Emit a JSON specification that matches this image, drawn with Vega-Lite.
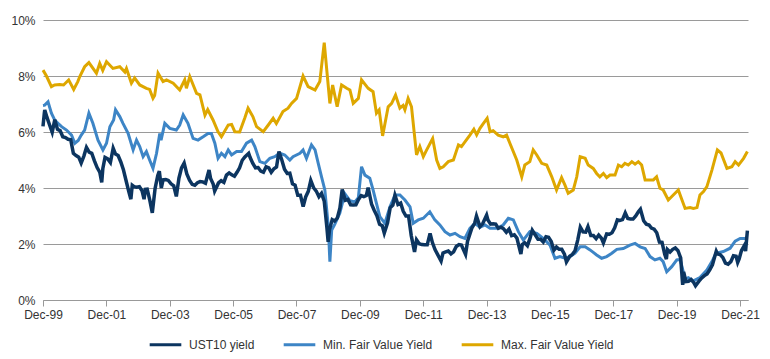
{
  "$schema": "https://vega.github.io/schema/vega-lite/v6.json",
  "width": 705,
  "height": 280,
  "autosize": {"type": "none"},
  "padding": {"left": 43, "top": 20, "right": 22, "bottom": 59},
  "background": "white",
  "config": {
    "view": {"stroke": null},
    "font": "Liberation Sans",
    "axis": {"labelFont": "Liberation Sans", "labelFontSize": 12, "labelColor": "#333333"},
    "legend": {"labelFont": "Liberation Sans", "labelFontSize": 12, "labelColor": "#333333"}
  },
  "datasets": {
    "ust": [
      {"d":"1999-12-31","v":6.2},{"d":"2000-01-20","v":6.79},
      {"d":"2000-01-15","v":6.66},{"d":"2000-02-15","v":6.52},{"d":"2000-03-15","v":6.26},{"d":"2000-04-15","v":5.99},{"d":"2000-05-15","v":6.44},{"d":"2000-06-15","v":6.10},{"d":"2000-07-15","v":6.05},{"d":"2000-08-15","v":5.83},{"d":"2000-09-15","v":5.80},{"d":"2000-10-15","v":5.74},{"d":"2000-11-15","v":5.72},{"d":"2000-12-15","v":5.24},
      {"d":"2001-01-15","v":5.16},{"d":"2001-02-15","v":5.10},{"d":"2001-03-15","v":4.89},{"d":"2001-04-15","v":5.14},{"d":"2001-05-15","v":5.45},{"d":"2001-06-15","v":5.28},{"d":"2001-07-15","v":5.24},{"d":"2001-08-15","v":4.97},{"d":"2001-09-15","v":4.73},{"d":"2001-10-15","v":4.57},{"d":"2001-11-07","v":4.2},{"d":"2001-11-20","v":4.7},{"d":"2001-12-15","v":5.09},
      {"d":"2002-01-15","v":5.04},{"d":"2002-02-15","v":4.91},{"d":"2002-03-19","v":5.42},{"d":"2002-04-15","v":5.21},{"d":"2002-05-15","v":5.16},{"d":"2002-06-15","v":4.93},{"d":"2002-07-15","v":4.65},{"d":"2002-08-15","v":4.26},{"d":"2002-09-15","v":3.87},{"d":"2002-10-09","v":3.6},{"d":"2002-10-25","v":4.1},{"d":"2002-11-15","v":4.05},{"d":"2002-12-15","v":4.03},
      {"d":"2003-01-15","v":4.05},{"d":"2003-02-15","v":3.90},{"d":"2003-03-10","v":3.6},{"d":"2003-03-25","v":3.95},{"d":"2003-04-15","v":3.96},{"d":"2003-05-15","v":3.57},{"d":"2003-06-13","v":3.11},{"d":"2003-07-15","v":3.98},{"d":"2003-08-15","v":4.45},{"d":"2003-09-02","v":4.6},{"d":"2003-09-25","v":4.0},{"d":"2003-10-15","v":4.29},{"d":"2003-11-15","v":4.30},{"d":"2003-12-15","v":4.27},
      {"d":"2004-01-15","v":4.15},{"d":"2004-02-15","v":4.08},{"d":"2004-03-16","v":3.7},{"d":"2004-04-15","v":4.35},{"d":"2004-05-15","v":4.72},{"d":"2004-06-14","v":4.89},{"d":"2004-07-15","v":4.50},{"d":"2004-08-15","v":4.28},{"d":"2004-09-15","v":4.13},{"d":"2004-10-15","v":4.10},{"d":"2004-11-15","v":4.19},{"d":"2004-12-15","v":4.23},
      {"d":"2005-01-15","v":4.22},{"d":"2005-02-15","v":4.17},{"d":"2005-03-28","v":4.64},{"d":"2005-04-15","v":4.34},{"d":"2005-05-15","v":4.14},{"d":"2005-06-01","v":3.89},{"d":"2005-07-15","v":4.18},{"d":"2005-08-15","v":4.26},{"d":"2005-09-15","v":4.20},{"d":"2005-10-15","v":4.46},{"d":"2005-11-15","v":4.54},{"d":"2005-12-15","v":4.47},
      {"d":"2006-01-15","v":4.42},{"d":"2006-02-15","v":4.57},{"d":"2006-03-15","v":4.72},{"d":"2006-04-15","v":4.99},{"d":"2006-05-15","v":5.11},{"d":"2006-06-28","v":5.24},{"d":"2006-07-15","v":5.09},{"d":"2006-08-15","v":4.88},{"d":"2006-09-15","v":4.72},{"d":"2006-10-15","v":4.73},{"d":"2006-11-15","v":4.60},{"d":"2006-12-15","v":4.56},
      {"d":"2007-01-15","v":4.76},{"d":"2007-02-15","v":4.72},{"d":"2007-03-15","v":4.56},{"d":"2007-04-15","v":4.69},{"d":"2007-05-15","v":4.75},{"d":"2007-06-12","v":5.30},{"d":"2007-07-15","v":5.00},{"d":"2007-08-15","v":4.67},{"d":"2007-09-15","v":4.52},{"d":"2007-10-15","v":4.53},{"d":"2007-11-15","v":4.15},{"d":"2007-12-15","v":4.10},
      {"d":"2008-01-15","v":3.74},{"d":"2008-02-15","v":3.74},{"d":"2008-03-17","v":3.34},{"d":"2008-04-15","v":3.68},{"d":"2008-05-15","v":3.88},{"d":"2008-06-13","v":4.27},{"d":"2008-07-15","v":4.01},{"d":"2008-08-15","v":3.89},{"d":"2008-09-15","v":3.69},{"d":"2008-10-15","v":3.81},{"d":"2008-11-15","v":3.53},{"d":"2008-12-15","v":2.6},{"d":"2008-12-30","v":2.08},
      {"d":"2009-01-15","v":2.52},{"d":"2009-02-15","v":2.87},{"d":"2009-03-15","v":2.82},{"d":"2009-04-15","v":2.93},{"d":"2009-05-15","v":3.29},{"d":"2009-06-10","v":3.95},{"d":"2009-07-15","v":3.56},{"d":"2009-08-15","v":3.59},{"d":"2009-09-15","v":3.40},{"d":"2009-10-15","v":3.39},{"d":"2009-11-15","v":3.40},{"d":"2009-12-15","v":3.59},
      {"d":"2010-01-15","v":3.73},{"d":"2010-02-15","v":3.69},{"d":"2010-03-15","v":3.73},{"d":"2010-04-05","v":4.01},{"d":"2010-05-15","v":3.42},{"d":"2010-06-15","v":3.20},{"d":"2010-07-15","v":3.01},{"d":"2010-08-15","v":2.70},{"d":"2010-09-15","v":2.65},{"d":"2010-10-08","v":2.39},{"d":"2010-11-15","v":2.76},{"d":"2010-12-15","v":3.29},
      {"d":"2011-01-15","v":3.39},{"d":"2011-02-08","v":3.74},{"d":"2011-03-15","v":3.41},{"d":"2011-04-15","v":3.46},{"d":"2011-05-15","v":3.17},{"d":"2011-06-15","v":3.00},{"d":"2011-07-15","v":3.00},{"d":"2011-08-15","v":2.30},{"d":"2011-09-22","v":1.72},{"d":"2011-10-15","v":2.15},{"d":"2011-11-15","v":2.01},{"d":"2011-12-15","v":1.98},
      {"d":"2012-01-15","v":1.97},{"d":"2012-02-15","v":1.97},{"d":"2012-03-19","v":2.38},{"d":"2012-04-15","v":2.05},{"d":"2012-05-15","v":1.80},{"d":"2012-06-15","v":1.62},{"d":"2012-07-24","v":1.39},{"d":"2012-08-15","v":1.68},{"d":"2012-09-15","v":1.72},{"d":"2012-10-15","v":1.75},{"d":"2012-11-15","v":1.65},{"d":"2012-12-15","v":1.72},
      {"d":"2013-01-15","v":1.91},{"d":"2013-02-15","v":1.98},{"d":"2013-03-15","v":1.96},{"d":"2013-05-02","v":1.63},{"d":"2013-05-25","v":2.1},{"d":"2013-06-15","v":2.30},{"d":"2013-07-15","v":2.58},{"d":"2013-08-15","v":2.74},{"d":"2013-09-05","v":3.0},{"d":"2013-10-15","v":2.62},{"d":"2013-11-15","v":2.72},{"d":"2013-12-31","v":3.03},
      {"d":"2014-01-15","v":2.86},{"d":"2014-02-15","v":2.71},{"d":"2014-03-15","v":2.72},{"d":"2014-04-15","v":2.71},{"d":"2014-05-15","v":2.56},{"d":"2014-06-15","v":2.60},{"d":"2014-07-15","v":2.54},{"d":"2014-08-15","v":2.42},{"d":"2014-09-15","v":2.53},{"d":"2014-10-15","v":2.30},{"d":"2014-11-15","v":2.33},{"d":"2014-12-15","v":2.21},
      {"d":"2015-01-30","v":1.64},{"d":"2015-02-15","v":1.98},{"d":"2015-03-15","v":2.04},{"d":"2015-04-15","v":1.94},{"d":"2015-05-15","v":2.20},{"d":"2015-06-10","v":2.49},{"d":"2015-07-15","v":2.32},{"d":"2015-08-15","v":2.17},{"d":"2015-09-15","v":2.17},{"d":"2015-10-15","v":2.07},{"d":"2015-11-15","v":2.26},{"d":"2015-12-15","v":2.24},
      {"d":"2016-01-15","v":2.09},{"d":"2016-02-15","v":1.78},{"d":"2016-03-15","v":1.89},{"d":"2016-04-15","v":1.81},{"d":"2016-05-15","v":1.81},{"d":"2016-06-15","v":1.64},{"d":"2016-07-08","v":1.36},{"d":"2016-08-15","v":1.56},{"d":"2016-09-15","v":1.63},{"d":"2016-10-15","v":1.76},{"d":"2016-11-15","v":2.14},{"d":"2016-12-15","v":2.60},
      {"d":"2017-01-15","v":2.43},{"d":"2017-02-15","v":2.42},{"d":"2017-03-13","v":2.62},{"d":"2017-04-15","v":2.30},{"d":"2017-05-15","v":2.30},{"d":"2017-06-15","v":2.19},{"d":"2017-07-15","v":2.32},{"d":"2017-08-15","v":2.21},{"d":"2017-09-07","v":2.04},{"d":"2017-10-15","v":2.36},{"d":"2017-11-15","v":2.35},{"d":"2017-12-15","v":2.40},
      {"d":"2018-01-15","v":2.58},{"d":"2018-02-15","v":2.86},{"d":"2018-03-15","v":2.84},{"d":"2018-04-15","v":2.87},{"d":"2018-05-17","v":3.11},{"d":"2018-06-15","v":2.91},{"d":"2018-07-15","v":2.89},{"d":"2018-08-15","v":2.89},{"d":"2018-09-15","v":3.00},{"d":"2018-10-15","v":3.15},{"d":"2018-11-08","v":3.24},{"d":"2018-12-15","v":2.83},
      {"d":"2019-01-15","v":2.71},{"d":"2019-02-15","v":2.68},{"d":"2019-03-15","v":2.57},{"d":"2019-04-15","v":2.53},{"d":"2019-05-15","v":2.40},{"d":"2019-06-15","v":2.07},{"d":"2019-07-15","v":2.06},{"d":"2019-08-15","v":1.63},{"d":"2019-09-03","v":1.46},{"d":"2019-09-15","v":1.80},{"d":"2019-10-15","v":1.71},{"d":"2019-11-15","v":1.81},{"d":"2019-12-15","v":1.86},
      {"d":"2020-01-15","v":1.76},{"d":"2020-02-15","v":1.50},{"d":"2020-03-09","v":0.54},{"d":"2020-03-20","v":1.0},{"d":"2020-04-15","v":0.66},{"d":"2020-05-15","v":0.67},{"d":"2020-06-15","v":0.73},{"d":"2020-07-15","v":0.62},{"d":"2020-08-04","v":0.51},{"d":"2020-09-15","v":0.68},{"d":"2020-10-15","v":0.79},{"d":"2020-11-15","v":0.87},{"d":"2020-12-15","v":0.93},
      {"d":"2021-01-15","v":1.08},{"d":"2021-02-15","v":1.26},{"d":"2021-03-31","v":1.74},{"d":"2021-04-15","v":1.64},{"d":"2021-05-15","v":1.62},{"d":"2021-06-15","v":1.52},{"d":"2021-07-15","v":1.32},{"d":"2021-08-15","v":1.28},{"d":"2021-09-15","v":1.37},{"d":"2021-10-15","v":1.58},{"d":"2021-11-15","v":1.56},{"d":"2021-12-03","v":1.34},{"d":"2021-12-20","v":1.47},
      {"d":"2022-01-15","v":1.76},{"d":"2022-02-15","v":1.93},{"d":"2022-03-04","v":1.75},{"d":"2022-03-15","v":2.13},{"d":"2022-03-25","v":2.48}
    ],
    "minv": [
      {"d":"1999-12-31","v":6.95},{"d":"2000-01-20","v":6.96},{"d":"2000-02-27","v":7.08},{"d":"2000-04-06","v":6.67},{"d":"2000-05-13","v":6.43},{"d":"2000-06-21","v":6.31},{"d":"2000-08-01","v":6.19},{"d":"2000-09-27","v":6.07},{"d":"2000-11-24","v":5.89},
      {"d":"2001-01-01","v":5.6},{"d":"2001-02-09","v":5.7},{"d":"2001-03-16","v":5.89},{"d":"2001-04-24","v":6.07},{"d":"2001-06-12","v":6.67},{"d":"2001-07-28","v":6.31},{"d":"2001-09-25","v":5.71},{"d":"2001-11-21","v":5.36},
      {"d":"2002-01-01","v":5.6},{"d":"2002-02-09","v":6.19},{"d":"2002-03-24","v":6.43},{"d":"2002-04-15","v":6.79},{"d":"2002-06-03","v":6.55},{"d":"2002-07-10","v":6.31},{"d":"2002-09-07","v":5.95},{"d":"2002-11-04","v":5.36},{"d":"2002-12-13","v":5.71},
      {"d":"2003-01-19","v":5.48},{"d":"2003-02-27","v":5.12},{"d":"2003-04-06","v":5.3},{"d":"2003-05-13","v":5.0},{"d":"2003-06-21","v":4.7},{"d":"2003-08-01","v":5.24},{"d":"2003-09-07","v":5.95},{"d":"2003-09-22","v":5.71},{"d":"2003-11-04","v":6.31},
      {"d":"2004-01-01","v":6.13},{"d":"2004-03-16","v":6.07},{"d":"2004-04-24","v":6.25},{"d":"2004-06-03","v":6.61},{"d":"2004-07-28","v":6.31},{"d":"2004-09-25","v":5.77},{"d":"2004-11-21","v":5.71},
      {"d":"2005-01-19","v":5.83},{"d":"2005-03-16","v":5.95},{"d":"2005-04-24","v":5.95},{"d":"2005-06-03","v":5.6},{"d":"2005-07-10","v":5.06},{"d":"2005-08-18","v":5.24},{"d":"2005-09-27","v":5.12},{"d":"2005-11-04","v":5.36},{"d":"2005-12-13","v":5.18},
      {"d":"2006-02-09","v":5.3},{"d":"2006-04-06","v":5.3},{"d":"2006-06-03","v":5.6},{"d":"2006-08-01","v":5.71},{"d":"2006-09-07","v":5.48},{"d":"2006-11-04","v":4.94},
      {"d":"2007-01-01","v":4.88},{"d":"2007-02-27","v":5.06},{"d":"2007-04-24","v":5.12},{"d":"2007-06-21","v":5.24},{"d":"2007-08-18","v":5.18},{"d":"2007-10-15","v":5.0},{"d":"2007-11-21","v":5.12},
      {"d":"2008-02-09","v":5.24},{"d":"2008-03-16","v":5.36},{"d":"2008-04-24","v":5.06},{"d":"2008-06-21","v":5.54},{"d":"2008-08-01","v":5.36},{"d":"2008-09-07","v":4.88},{"d":"2008-10-15","v":4.4},{"d":"2008-11-22","v":3.93},
      {"d":"2009-01-01","v":2.62},{"d":"2009-01-19","v":1.37},{"d":"2009-02-09","v":2.5},{"d":"2009-03-16","v":2.7},{"d":"2009-05-13","v":3.1},{"d":"2009-07-10","v":3.8},{"d":"2009-09-07","v":3.55},{"d":"2009-11-04","v":3.5},{"d":"2009-12-13","v":3.65},
      {"d":"2010-01-19","v":4.76},{"d":"2010-02-27","v":4.46},{"d":"2010-04-24","v":4.35},{"d":"2010-06-01","v":3.93},{"d":"2010-07-10","v":3.45},{"d":"2010-08-18","v":2.98},{"d":"2010-10-15","v":2.74},{"d":"2010-12-13","v":3.33},
      {"d":"2011-02-09","v":3.75},{"d":"2011-04-06","v":3.75},{"d":"2011-06-03","v":3.57},{"d":"2011-08-01","v":3.33},{"d":"2011-09-07","v":2.74},{"d":"2011-11-04","v":2.86},
      {"d":"2012-01-01","v":2.92},{"d":"2012-03-16","v":3.15},{"d":"2012-05-13","v":2.86},{"d":"2012-07-10","v":2.68},{"d":"2012-09-07","v":2.44},{"d":"2012-11-04","v":2.32},
      {"d":"2013-01-01","v":2.38},{"d":"2013-02-27","v":2.26},{"d":"2013-04-24","v":2.2},{"d":"2013-06-21","v":2.56},{"d":"2013-08-18","v":2.74},{"d":"2013-10-15","v":2.6},{"d":"2013-12-13","v":2.68},
      {"d":"2014-02-09","v":2.56},{"d":"2014-04-28","v":2.56},{"d":"2014-07-10","v":2.68},{"d":"2014-09-07","v":2.92},{"d":"2014-11-04","v":2.86},
      {"d":"2015-01-01","v":2.44},{"d":"2015-02-27","v":2.14},{"d":"2015-05-13","v":2.44},{"d":"2015-08-01","v":2.38},{"d":"2015-10-15","v":2.2},
      {"d":"2016-01-01","v":1.96},{"d":"2016-02-27","v":1.49},{"d":"2016-04-24","v":1.55},{"d":"2016-06-21","v":1.49},{"d":"2016-08-18","v":1.55},{"d":"2016-10-15","v":1.67},{"d":"2016-12-13","v":1.9},
      {"d":"2017-02-09","v":1.9},{"d":"2017-04-06","v":1.79},{"d":"2017-06-21","v":1.61},{"d":"2017-08-18","v":1.49},{"d":"2017-10-15","v":1.55},{"d":"2017-12-13","v":1.67},
      {"d":"2018-02-09","v":1.81},{"d":"2018-04-24","v":1.84},{"d":"2018-07-10","v":1.96},{"d":"2018-09-07","v":2.02},{"d":"2018-11-04","v":1.9},
      {"d":"2019-01-01","v":1.84},{"d":"2019-02-27","v":1.55},{"d":"2019-04-24","v":1.43},{"d":"2019-06-21","v":1.49},{"d":"2019-07-28","v":1.37},{"d":"2019-09-07","v":1.01},{"d":"2019-11-04","v":1.19},
      {"d":"2020-01-01","v":1.43},{"d":"2020-02-09","v":1.45},{"d":"2020-04-06","v":0.75},{"d":"2020-05-13","v":0.8},{"d":"2020-07-10","v":0.68},{"d":"2020-09-24","v":0.8},{"d":"2020-12-13","v":1.07},
      {"d":"2021-02-09","v":1.37},{"d":"2021-03-28","v":1.67},{"d":"2021-06-21","v":1.73},{"d":"2021-09-07","v":1.85},{"d":"2021-11-04","v":2.1},
      {"d":"2022-01-01","v":2.2},{"d":"2022-02-27","v":2.2},{"d":"2022-03-25","v":2.25}
    ],
    "maxv": [
      {"d":"1999-12-31","v":8.21},{"d":"2000-02-09","v":8.0},{"d":"2000-04-06","v":7.62},{"d":"2000-05-13","v":7.68},{"d":"2000-07-10","v":7.7},{"d":"2000-08-24","v":7.68},{"d":"2000-10-22","v":7.86},{"d":"2000-12-19","v":7.52},
      {"d":"2001-02-04","v":7.8},{"d":"2001-02-27","v":7.98},{"d":"2001-04-24","v":8.33},{"d":"2001-06-12","v":8.48},{"d":"2001-09-07","v":8.1},{"d":"2001-10-15","v":8.45},{"d":"2001-11-19","v":8.2},
      {"d":"2002-01-01","v":8.51},{"d":"2002-03-16","v":8.27},{"d":"2002-06-03","v":8.33},{"d":"2002-08-01","v":8.14},{"d":"2002-08-19","v":8.27},{"d":"2002-10-15","v":7.74},{"d":"2002-11-21","v":7.93},
      {"d":"2003-01-19","v":7.68},{"d":"2003-04-06","v":7.56},{"d":"2003-05-13","v":7.52},{"d":"2003-06-21","v":7.2},{"d":"2003-07-10","v":7.3},{"d":"2003-08-18","v":8.1},{"d":"2003-10-15","v":7.8},{"d":"2003-11-24","v":7.86},
      {"d":"2004-02-09","v":7.74},{"d":"2004-04-24","v":7.5},{"d":"2004-06-21","v":7.86},{"d":"2004-07-10","v":7.56},{"d":"2004-08-18","v":7.98},{"d":"2004-11-04","v":7.38},{"d":"2004-12-13","v":7.33},
      {"d":"2005-02-09","v":6.6},{"d":"2005-03-13","v":6.8},{"d":"2005-05-13","v":6.43},{"d":"2005-07-10","v":6.01},{"d":"2005-08-18","v":5.83},{"d":"2005-11-04","v":6.25},{"d":"2005-12-13","v":6.27},
      {"d":"2006-01-19","v":6.01},{"d":"2006-03-16","v":6.0},{"d":"2006-05-13","v":6.49},{"d":"2006-06-21","v":6.85},{"d":"2006-08-15","v":6.55},{"d":"2006-09-27","v":6.19},{"d":"2006-12-13","v":6.01},
      {"d":"2007-02-09","v":6.25},{"d":"2007-04-06","v":6.49},{"d":"2007-05-13","v":6.3},{"d":"2007-07-28","v":6.73},{"d":"2007-09-25","v":6.85},{"d":"2007-11-04","v":7.02},
      {"d":"2008-01-01","v":7.2},{"d":"2008-03-16","v":8.0},{"d":"2008-05-13","v":7.62},{"d":"2008-08-01","v":7.5},{"d":"2008-09-25","v":7.8},{"d":"2008-11-15","v":9.19},
      {"d":"2009-01-19","v":7.02},{"d":"2009-02-20","v":7.68},{"d":"2009-04-13","v":6.9},{"d":"2009-06-03","v":7.68},{"d":"2009-08-01","v":7.56},{"d":"2009-09-07","v":7.5},{"d":"2009-10-15","v":7.02},{"d":"2009-12-13","v":7.2},
      {"d":"2010-01-19","v":7.86},{"d":"2010-04-06","v":7.56},{"d":"2010-06-01","v":7.44},{"d":"2010-07-10","v":6.67},{"d":"2010-08-10","v":6.79},{"d":"2010-09-19","v":5.86},{"d":"2010-11-22","v":6.9},
      {"d":"2011-01-01","v":7.02},{"d":"2011-02-15","v":7.32},{"d":"2011-04-06","v":6.85},{"d":"2011-05-13","v":6.95},{"d":"2011-06-03","v":6.79},{"d":"2011-07-10","v":7.2},{"d":"2011-08-18","v":6.9},{"d":"2011-10-15","v":5.18},{"d":"2011-11-22","v":5.48},
      {"d":"2012-01-01","v":5.12},{"d":"2012-02-09","v":5.36},{"d":"2012-04-18","v":5.77},{"d":"2012-06-03","v":5.0},{"d":"2012-07-10","v":4.7},{"d":"2012-08-18","v":4.76},{"d":"2012-10-15","v":4.94},{"d":"2012-12-13","v":5.0},
      {"d":"2013-02-09","v":5.54},{"d":"2013-03-16","v":5.48},{"d":"2013-06-21","v":5.89},{"d":"2013-08-06","v":6.1},{"d":"2013-09-07","v":5.9},{"d":"2013-10-15","v":6.13},{"d":"2013-11-22","v":6.3},
      {"d":"2014-01-06","v":6.49},{"d":"2014-02-09","v":6.01},{"d":"2014-03-16","v":6.05},{"d":"2014-05-13","v":5.89},{"d":"2014-07-10","v":5.83},{"d":"2014-08-18","v":5.89},{"d":"2014-09-25","v":5.6},{"d":"2014-12-13","v":5.0},
      {"d":"2015-02-09","v":4.4},{"d":"2015-03-16","v":4.82},{"d":"2015-05-13","v":4.94},{"d":"2015-06-21","v":5.36},{"d":"2015-08-01","v":5.18},{"d":"2015-09-27","v":4.88},{"d":"2015-11-24","v":4.82},
      {"d":"2016-01-21","v":4.4},{"d":"2016-03-16","v":3.93},{"d":"2016-05-13","v":4.37},{"d":"2016-06-21","v":4.1},{"d":"2016-07-28","v":3.81},{"d":"2016-09-25","v":3.93},{"d":"2016-11-04","v":4.4},{"d":"2016-12-13","v":5.12},
      {"d":"2017-02-09","v":5.06},{"d":"2017-03-16","v":4.82},{"d":"2017-05-13","v":4.7},{"d":"2017-06-21","v":4.52},{"d":"2017-07-28","v":4.4},{"d":"2017-09-07","v":4.52},{"d":"2017-10-15","v":4.37},{"d":"2017-11-22","v":4.46},
      {"d":"2018-01-19","v":4.46},{"d":"2018-02-27","v":4.82},{"d":"2018-04-06","v":4.76},{"d":"2018-05-13","v":4.88},{"d":"2018-06-21","v":4.82},{"d":"2018-08-01","v":4.94},{"d":"2018-09-07","v":4.85},{"d":"2018-10-15","v":4.94},{"d":"2018-11-22","v":4.82},
      {"d":"2019-01-01","v":4.29},{"d":"2019-02-09","v":4.29},{"d":"2019-04-06","v":4.29},{"d":"2019-05-13","v":4.4},{"d":"2019-06-21","v":3.99},{"d":"2019-07-28","v":3.93},{"d":"2019-09-25","v":3.57},{"d":"2019-11-22","v":3.75},
      {"d":"2020-01-19","v":3.93},{"d":"2020-02-27","v":3.6},{"d":"2020-04-06","v":3.27},{"d":"2020-06-03","v":3.3},{"d":"2020-07-10","v":3.27},{"d":"2020-08-21","v":3.3},{"d":"2020-09-24","v":3.75},{"d":"2020-11-04","v":3.87},{"d":"2020-12-13","v":4.05},
      {"d":"2021-02-09","v":4.64},{"d":"2021-04-13","v":5.36},{"d":"2021-05-25","v":5.25},{"d":"2021-08-01","v":4.7},{"d":"2021-09-27","v":4.76},{"d":"2021-11-04","v":4.94},{"d":"2021-12-13","v":4.82},
      {"d":"2022-02-09","v":5.06},{"d":"2022-03-25","v":5.3}
    ]
  },
  "encoding": {
    "x": {
      "field": "d",
      "type": "temporal",
      "title": null,
      "scale": {"type": "utc", "domain": [{"year": 1999, "month": 12, "date": 31, "utc": true}, {"year": 2022, "month": 4, "date": 1, "utc": true}]},
      "axis": {
        "values": [
          {"year": 1999, "month": 12, "date": 31, "utc": true},
          {"year": 2001, "month": 12, "date": 31, "utc": true},
          {"year": 2003, "month": 12, "date": 31, "utc": true},
          {"year": 2005, "month": 12, "date": 31, "utc": true},
          {"year": 2007, "month": 12, "date": 31, "utc": true},
          {"year": 2009, "month": 12, "date": 31, "utc": true},
          {"year": 2011, "month": 12, "date": 31, "utc": true},
          {"year": 2013, "month": 12, "date": 31, "utc": true},
          {"year": 2015, "month": 12, "date": 31, "utc": true},
          {"year": 2017, "month": 12, "date": 31, "utc": true},
          {"year": 2019, "month": 12, "date": 31, "utc": true},
          {"year": 2021, "month": 12, "date": 31, "utc": true}
        ],
        "format": "%b-%y",
        "grid": false,
        "tickSize": 6,
        "tickColor": "#999999",
        "domainColor": "#999999",
        "labelPadding": 3,
        "labelFlush": false,
        "labelOverlap": false
      }
    },
    "y": {
      "field": "v",
      "type": "quantitative",
      "title": null,
      "scale": {"domain": [0, 10], "nice": false},
      "axis": {
        "values": [0, 2, 4, 6, 8, 10],
        "labelExpr": "datum.value + '%'",
        "grid": true,
        "gridColor": "#9a9a9a",
        "gridWidth": 1,
        "ticks": false,
        "domain": false,
        "labelPadding": 8
      }
    }
  },
  "layer": [
    {
      "data": {"name": "maxv"},
      "mark": {"type": "line", "strokeWidth": 3, "interpolate": "linear"},
      "encoding": {
        "color": {
          "datum": "Max. Fair Value Yield",
          "type": "nominal",
          "scale": {"domain": ["UST10 yield", "Min. Fair Value Yield", "Max. Fair Value Yield"], "range": ["#0c3560", "#3d85c6", "#dea700"]},
          "legend": {"orient": "none", "legendX": 105, "legendY": 307, "direction": "horizontal", "title": null, "symbolType": "stroke", "symbolStrokeWidth": 3, "symbolSize": 1000, "columnPadding": 22, "labelOffset": 6}
        }
      }
    },
    {
      "data": {"name": "minv"},
      "mark": {"type": "line", "strokeWidth": 3, "interpolate": "linear"},
      "encoding": {
        "color": {"datum": "Min. Fair Value Yield", "type": "nominal"}
      }
    },
    {
      "data": {"name": "ust"},
      "mark": {"type": "line", "strokeWidth": 3.5, "interpolate": "linear"},
      "encoding": {
        "color": {"datum": "UST10 yield", "type": "nominal"}
      }
    }
  ]
}
